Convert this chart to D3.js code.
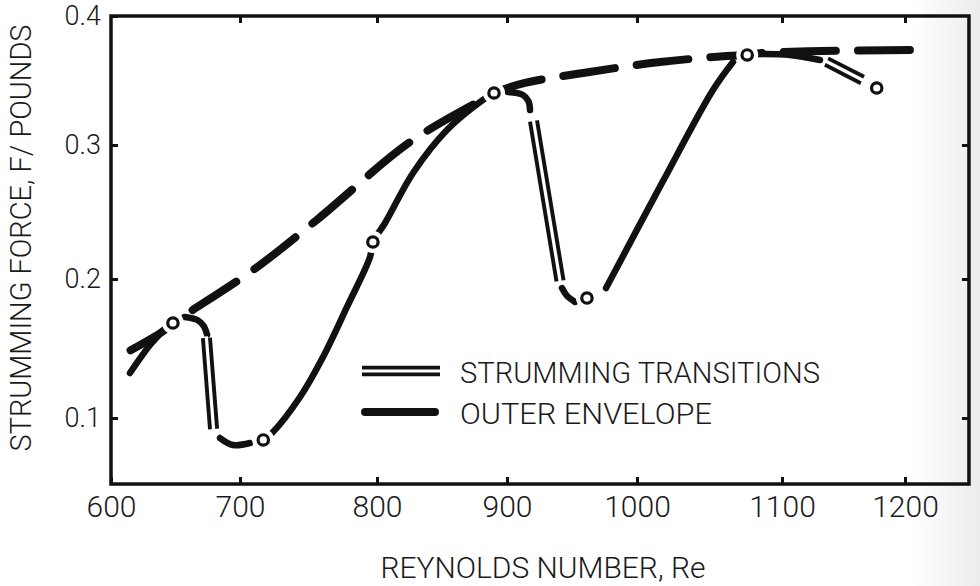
<!DOCTYPE html>
<html>
<head>
<meta charset="utf-8">
<script src="https://cdn.jsdelivr.net/npm/d3@7"></script>
<style>
  html, body { margin: 0; padding: 0; background: #fff; }
  svg { display: block; }
  text { font-family: Roboto, "Liberation Sans", "DejaVu Sans", sans-serif; font-weight: 300; fill: #1a1a1a; }
</style>
</head>
<body>
<svg id="chart" width="980" height="586"></svg>
<script>
// ---- data -------------------------------------------------------------
// Reynolds number tick values and force tick values
const xTickValues = [600, 700, 800, 900, 1000, 1100, 1200];
const yTickValues = [0.1, 0.2, 0.3, 0.4];
const xLimits = [600, 1252];
const yLimits = [0.0525, 0.4];

// measured points (open circles)
const pointRe = [648, 717, 797, 890, 961.5, 1076, 1177];
const pointF  = [0.1683, 0.0842, 0.2276, 0.3403, 0.1863, 0.3698, 0.3442];

// outer envelope (Re, F)
const envelopeRe = [608.5, 639.5, 648, 659.7, 711.6, 757.7, 825.4, 883, 890,
                    913.8, 958.5, 1015.9, 1062, 1076, 1086, 1133, 1204];
const envelopeF  = [0.1453, 0.1619, 0.1683, 0.1755, 0.2082, 0.2455, 0.3023, 0.3364, 0.3403,
                    0.3481, 0.3558, 0.3643, 0.3690, 0.3698, 0.3713, 0.3729, 0.3736];

// strumming response, single-line pieces
const strumPieces = [
  { re: [614.7, 630.2, 640],               f: [0.1324, 0.1525, 0.1625] },
  { re: [657, 667, 672, 674.5],            f: [0.1727, 0.1705, 0.1660, 0.1600] },
  { re: [684.5, 694.6, 707.3],             f: [0.0856, 0.0806, 0.0820] },
  { re: [717, 723.4, 743.8, 760.6, 778.1, 794.9, 797, 806.2, 827.7, 853.8, 881.5, 890],
    f:  [0.0842, 0.0892, 0.1151, 0.1439, 0.1799, 0.2164, 0.2276, 0.2418, 0.2791, 0.3116, 0.3349, 0.3403] },
  { re: [900.8, 912.3, 916.5, 917.7],      f: [0.3411, 0.3388, 0.3340, 0.3271] },
  { re: [942.3, 946, 952.3],               f: [0.1935, 0.1880, 0.1835] },
  { re: [976.2, 1017.2, 1052.4, 1066.2],   f: [0.1935, 0.2716, 0.3426, 0.3643] },
  { re: [1085.5, 1106.5, 1130.9],          f: [0.3705, 0.3698, 0.3659] }
];

// strumming transitions (double lines)
const transitionRe = [[674, 679.5], [920.4, 940.8], [1136.2, 1165.4]];
const transitionF  = [[0.1576, 0.0921], [0.3186, 0.1986], [0.3647, 0.3504]];

const legendLabels = ["STRUMMING TRANSITIONS", "OUTER ENVELOPE"];
const xTitle = "REYNOLDS NUMBER, Re";
const yTitle = "STRUMMING FORCE, F/ POUNDS";

// ---- scales (hand-ruled grid, tick stops placed individually) ---------
const x = d3.scaleLinear().domain(xTickValues).range([111, 240, 377, 507, 637, 782, 905]);
const y = d3.scaleLinear().domain(yTickValues).range([418, 279, 145, 16]);

const svg = d3.select("#chart");
const ink = "#111";

// faint paper shading toward the right edge
const defs = svg.append("defs");
const grad = defs.append("linearGradient").attr("id", "paper")
  .attr("x1", "0").attr("x2", "1").attr("y1", "0").attr("y2", "0");
grad.append("stop").attr("offset", "0.93").attr("stop-color", "#ffffff");
grad.append("stop").attr("offset", "1").attr("stop-color", "#ececec");
svg.append("rect").attr("width", 980).attr("height", 586).attr("fill", "url(#paper)");

const x0 = x(xLimits[0]), x1 = x(xLimits[1]);
const y0 = y(yLimits[0]), y1 = y(yLimits[1]);

// ---- axes -------------------------------------------------------------
const axisStyle = g => {
  g.attr("font-family", null).attr("font-size", null);
  g.select(".domain").remove();
  g.selectAll(".tick line").attr("stroke", ink).attr("stroke-width", 3);
  g.selectAll(".tick text").attr("fill", "#1a1a1a");
};

svg.append("g")
  .attr("transform", `translate(0,${y0})`)
  .call(d3.axisBottom(x).tickValues(xTickValues).tickSize(-7).tickPadding(12).tickFormat(d3.format("d")))
  .call(axisStyle)
  .selectAll(".tick text").style("font-size", "30px");

svg.append("g")
  .attr("transform", `translate(0,${y1})`)
  .call(d3.axisTop(x).tickValues(xTickValues.slice(1)).tickSize(-7).tickFormat(""))
  .call(axisStyle);

svg.append("g")
  .attr("transform", `translate(${x0},0)`)
  .call(d3.axisLeft(y).tickValues(yTickValues).tickSize(-7).tickPadding(10).tickFormat(d3.format(".1f")))
  .call(axisStyle)
  .selectAll(".tick text").style("font-size", "27px");

svg.append("g")
  .attr("transform", `translate(${x1},0)`)
  .call(d3.axisRight(y).tickValues(yTickValues.slice(0, 3)).tickSize(-7).tickFormat(""))
  .call(axisStyle);

// frame
svg.append("rect")
  .attr("x", x0).attr("y", y1)
  .attr("width", x1 - x0).attr("height", y0 - y1)
  .attr("fill", "none").attr("stroke", ink).attr("stroke-width", 3.5);

// axis titles
svg.append("text")
  .attr("x", (x0 + x1) / 2 + 3).attr("y", 578)
  .attr("text-anchor", "middle")
  .attr("textLength", 325).attr("lengthAdjust", "spacingAndGlyphs")
  .style("font-size", "30px")
  .text(xTitle);

svg.append("text")
  .attr("transform", "translate(31,238) rotate(-90)")
  .attr("text-anchor", "middle")
  .attr("textLength", 427).attr("lengthAdjust", "spacingAndGlyphs")
  .style("font-size", "30px")
  .text(yTitle);

// ---- curves -----------------------------------------------------------
const line = d3.line().x(d => x(d[0])).y(d => y(d[1])).curve(d3.curveCatmullRom.alpha(0.5));
const zipPts = (a, b) => a.map((v, i) => [v, b[i]]);

// outer envelope, long dashes; the phase is set so the curve ends on a full dash
const dashLen = 52, gapLen = 22;
const env = svg.append("path")
  .attr("d", line(zipPts(envelopeRe, envelopeF)))
  .attr("fill", "none").attr("stroke", ink)
  .attr("stroke-width", 8).attr("stroke-linecap", "round")
  .attr("stroke-dasharray", `${dashLen},${gapLen}`);
const envLen = env.node().getTotalLength();
const period = dashLen + gapLen;
env.attr("stroke-dashoffset", ((dashLen - (envLen % period)) % period + period) % period);

// strumming response
svg.append("g").selectAll("path")
  .data(strumPieces)
  .join("path")
  .attr("d", p => line(zipPts(p.re, p.f)))
  .attr("fill", "none").attr("stroke", ink)
  .attr("stroke-width", 6.5).attr("stroke-linecap", "round");

// double-line transitions: wide black stroke with a white core
const transitions = transitionRe.map((r, i) => zipPts(r, transitionF[i]));
const trG = svg.append("g");
trG.selectAll("path.outer").data(transitions).join("path").attr("class", "outer")
  .attr("d", d => line(d)).attr("fill", "none")
  .attr("stroke", ink).attr("stroke-width", 11);
trG.selectAll("path.inner").data(transitions).join("path").attr("class", "inner")
  .attr("d", d => line(d)).attr("fill", "none")
  .attr("stroke", "#fff").attr("stroke-width", 3.2).attr("stroke-linecap", "square");

// open circles with a clear margin around each
const pts = zipPts(pointRe, pointF);
svg.append("g").selectAll("circle")
  .data(pts).join("circle")
  .attr("cx", d => x(d[0])).attr("cy", d => y(d[1]))
  .attr("r", 11).attr("fill", "#fff");
svg.append("g").selectAll("circle")
  .data(pts).join("circle")
  .attr("cx", d => x(d[0])).attr("cy", d => y(d[1]))
  .attr("r", 5.2).attr("fill", "#fff")
  .attr("stroke", ink).attr("stroke-width", 3.2);

// ---- legend -----------------------------------------------------------
const lg = svg.append("g");
lg.append("line").attr("x1", 362).attr("x2", 440).attr("y1", 371).attr("y2", 371)
  .attr("stroke", ink).attr("stroke-width", 10.5);
lg.append("line").attr("x1", 360).attr("x2", 442).attr("y1", 371).attr("y2", 371)
  .attr("stroke", "#fff").attr("stroke-width", 3);
lg.append("line").attr("x1", 365).attr("x2", 435).attr("y1", 412).attr("y2", 412)
  .attr("stroke", ink).attr("stroke-width", 8).attr("stroke-linecap", "round");

lg.selectAll("text").data(legendLabels).join("text")
  .attr("x", 460).attr("y", (d, i) => 383 + i * 41)
  .attr("textLength", (d, i) => i === 0 ? 360 : 252)
  .attr("lengthAdjust", "spacingAndGlyphs")
  .style("font-size", "30px")
  .text(d => d);
</script>
</body>
</html>
